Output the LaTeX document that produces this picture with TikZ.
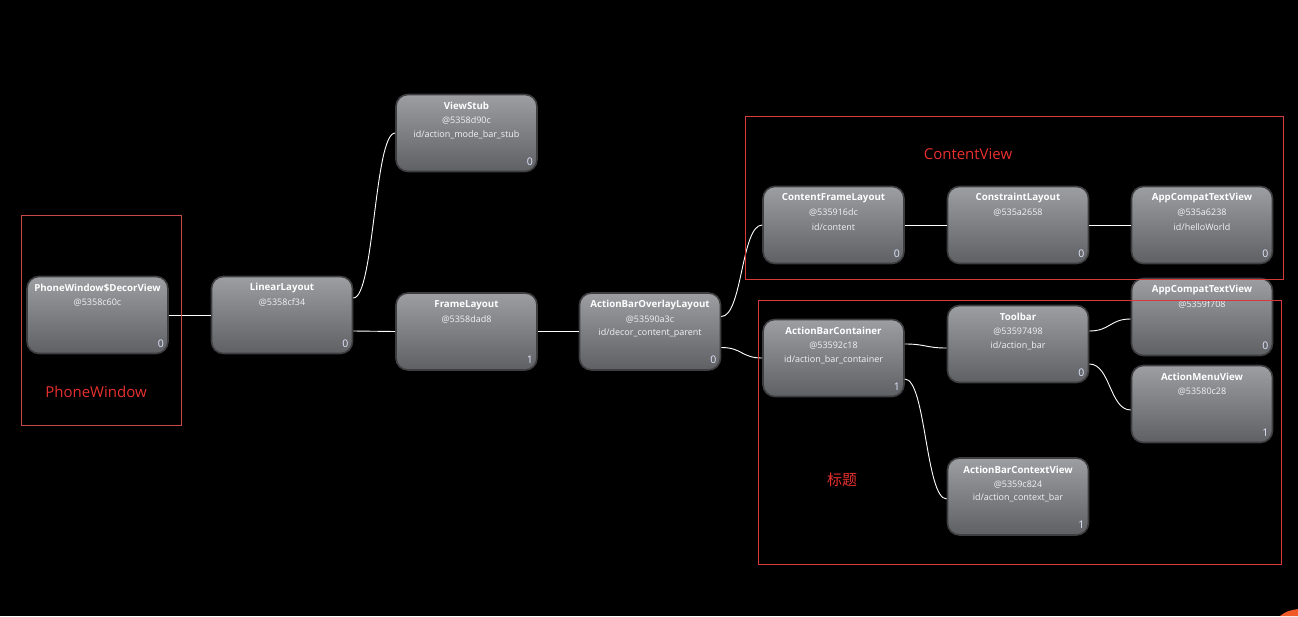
\documentclass[tikz,border=0pt]{standalone}
\usepackage{fontspec}
\setmainfont{Open Sans}
\newfontfamily\cjk{Noto Sans CJK SC}
\definecolor{nodetop}{HTML}{9C9EA2}
\definecolor{nodebot}{HTML}{5E6064}
\definecolor{nodeedge}{HTML}{3E3E40}
\definecolor{boxred}{HTML}{D83A3A}
\definecolor{labred}{HTML}{E8302E}
\definecolor{numcol}{HTML}{E2E8FF}
\definecolor{blob}{HTML}{F05A28}
\tikzset{
  vbox/.style={rectangle, rounded corners=12pt, minimum width=141pt, minimum height=77pt,
    top color=nodetop, bottom color=nodebot, draw=nodeedge, line width=1.6pt, inner sep=0pt},
  vtitle/.style={text=white, font=\fontsize{9.7}{11}\selectfont\bfseries, inner sep=0pt},
  vsub/.style={text=white!95!black, font=\fontsize{9}{10}\selectfont, inner sep=0pt},
  vnum/.style={text=numcol, font=\fontsize{10.5}{12}\selectfont, inner sep=0pt},
  conn/.style={draw=white, line width=0.9pt},
  redbox/.style={draw=boxred, line width=0.9pt},
  redlab/.style={text=labred, font=\fontsize{15}{17}\selectfont, inner sep=0pt}
}
\newcommand\vnode[7]{%
  \node[vbox] (#1) at (#2,#3) {};
  \node[vtitle] (#1-t) at ([yshift=-12.5pt]#1.north) {#4};
  \node[vsub] (#1-a) at ([yshift=-27pt]#1.north) {#5};
  \node[vsub] (#1-i) at ([yshift=-41pt]#1.north) {#6};
  \node[vnum] (#1-n) at ([xshift=-8pt,yshift=11pt]#1.south east) {#7};
}
\begin{document}
\begin{tikzpicture}[x=1pt,y=-1pt]
\fill[black] (0,0) rectangle (1298,616);
\useasboundingbox (0,0) rectangle (1298,616);

\vnode{dv}{97.5}{315}{PhoneWindow\$DecorView}{@5358c60c}{}{0}
\vnode{ll}{282}{315}{LinearLayout}{@5358cf34}{}{0}
\vnode{vs}{466.5}{133}{ViewStub}{@5358d90c}{id/action\_mode\_bar\_stub}{0}
\vnode{fl}{466.5}{331.5}{FrameLayout}{@5358dad8}{}{1}
\vnode{abol}{650}{331.5}{ActionBarOverlayLayout}{@53590a3c}{id/decor\_content\_parent}{0}
\vnode{cfl}{833.5}{225}{ContentFrameLayout}{@535916dc}{id/content}{0}
\vnode{cl}{1018}{225}{ConstraintLayout}{@535a2658}{}{0}
\vnode{tv1}{1202}{225}{AppCompatTextView}{@535a6238}{id/helloWorld}{0}
\vnode{tv2}{1202}{317}{AppCompatTextView}{@5359f708}{}{0}
\vnode{abc}{833.5}{358}{ActionBarContainer}{@53592c18}{id/action\_bar\_container}{1}
\vnode{tb}{1018}{344}{Toolbar}{@53597498}{id/action\_bar}{0}
\vnode{amv}{1202}{404}{ActionMenuView}{@53580c28}{}{1}
\vnode{abcv}{1018}{496.5}{ActionBarContextView}{@5359c824}{id/action\_context\_bar}{1}

% connectors
\draw[conn] (dv.east) -- (ll.west);
\draw[conn] ([yshift=17pt]ll.east) .. controls +(21,0) and +(-21,0) .. (vs.west);
\draw[conn] ([yshift=-16pt]ll.east) .. controls +(21,0) and +(-21,0) .. (fl.west);
\draw[conn] (fl.east) -- (abol.west);
\draw[conn] ([yshift=15pt]abol.east) .. controls +(21,0) and +(-21,0) .. (cfl.west);
\draw[conn] ([yshift=-16pt]abol.east) .. controls +(21,0) and +(-21,0) .. (abc.west);
\draw[conn] (cfl.east) -- (cl.west);
\draw[conn] (cl.east) -- (tv1.west);
\draw[conn] ([yshift=14pt]abc.east) .. controls +(21,0) and +(-21,0) .. ([yshift=-4pt]tb.west);
\draw[conn] ([yshift=-21pt]abc.east) .. controls +(21,0) and +(-21,0) .. ([yshift=-2.5pt]abcv.west);
\draw[conn] ([yshift=13pt]tb.east) .. controls +(21,0) and +(-21,0) .. ([yshift=-2pt]tv2.west);
\draw[conn] ([yshift=-20pt]tb.east) .. controls +(21,0) and +(-21,0) .. ([yshift=-6pt]amv.west);

% red groups
\draw[redbox, draw=boxred!80!gray] (21,215) rectangle (181,425);
\node[redlab] (lpw) at (96,392) {PhoneWindow};
\draw[redbox] (745,116) rectangle (1283,279);
\node[redlab] (lcv) at (968,154) {ContentView};
\draw[redbox] (758,300) rectangle (1281,564);
\node[redlab, font=\cjk\fontsize{15}{17}\selectfont] (ltt) at (842,480) {标题};

% corner blob
\fill[blob] (1280,616) .. controls (1287,611) .. (1298,609) -- (1298,616) -- cycle;
\end{tikzpicture}
\end{document}
